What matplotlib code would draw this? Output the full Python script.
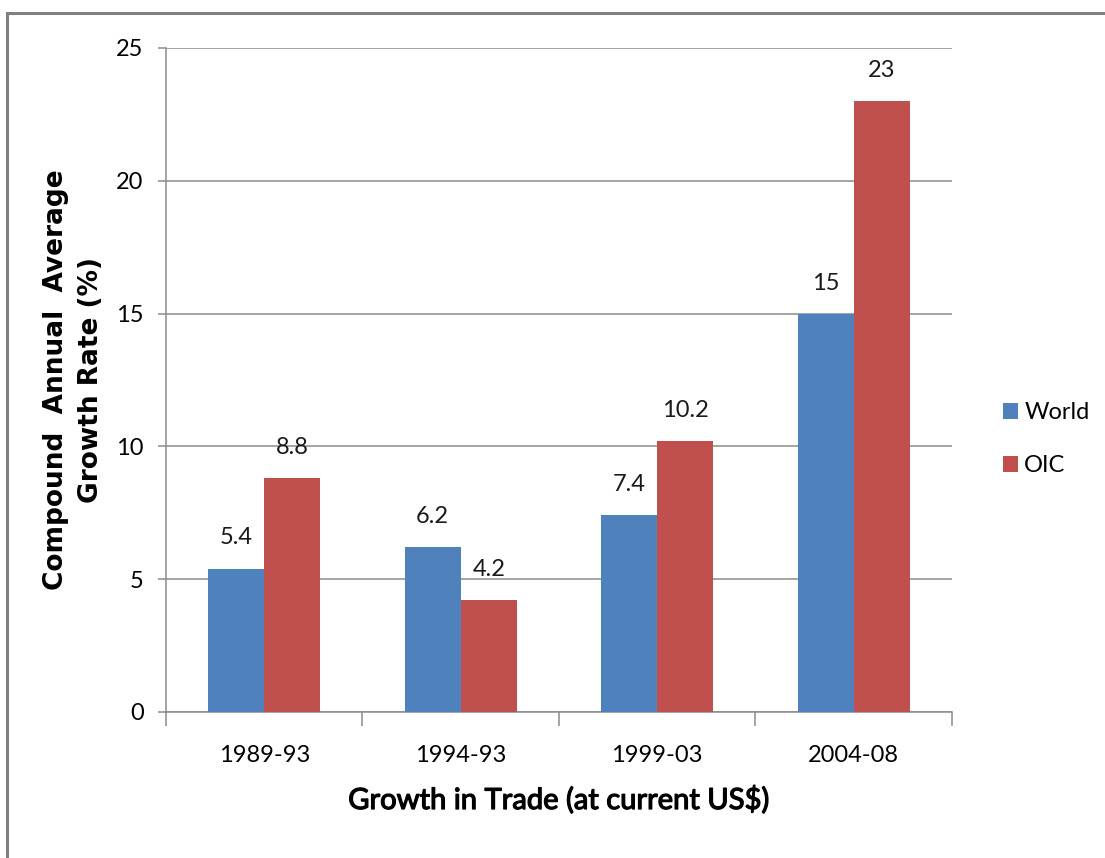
import matplotlib
matplotlib.use("Agg")
import matplotlib.pyplot as plt
import matplotlib.patheffects as pe
import numpy as np
from matplotlib.patches import Rectangle

periods = ["1989-93", "1994-93", "1999-03", "2004-08"]
world = [5.4, 6.2, 7.4, 15]
oic = [8.8, 4.2, 10.2, 23]
series_names = ["World", "OIC"]

plt.rcParams['font.family'] = ['Lato', 'DejaVu Sans']

fig = plt.figure(figsize=(11.05, 8.58), dpi=100)
ax = fig.add_axes([0.1502, 0.1702, 0.7113, 0.7739])

x = np.arange(len(periods))
w = 0.285
b1 = ax.bar(x - w / 2, world, w, color="#4F81BD", label=series_names[0], zorder=3)
b2 = ax.bar(x + w / 2, oic, w, color="#C0504D", label=series_names[1], zorder=3)

# value labels above bars
for bars, vals in ((b1, world), (b2, oic)):
    for rect, v in zip(bars, vals):
        ax.annotate(f"{v:g}", (rect.get_x() + rect.get_width() / 2, v),
                    xytext=(0, 22), textcoords="offset points",
                    ha="center", va="center", fontsize=17, color="#1a1a1a")

ax.set_xlim(-0.5, len(periods) - 0.5)
ax.set_ylim(0, 25)
ax.set_yticks([0, 5, 10, 15, 20, 25])
ax.yaxis.grid(True, color="#8c8c8c", linewidth=1.1, zorder=0)

ax.set_xticks(x)
ax.set_xticklabels(periods, fontsize=17)
ax.set_xticks(np.arange(len(periods) + 1) - 0.5, minor=True)
ax.tick_params(axis="x", which="major", length=0, pad=24)
ax.tick_params(axis="x", which="minor", length=10, color="#8c8c8c", width=1.1)
ax.tick_params(axis="y", length=6, color="#8c8c8c", width=1.1, labelsize=17, pad=10)

for s in ("top", "right"):
    ax.spines[s].set_visible(False)
for s in ("left", "bottom"):
    ax.spines[s].set_color("#8c8c8c")
    ax.spines[s].set_linewidth(1.1)

# Lato here has no semibold, so thicken the x label a little with a stroke
xl = ax.set_xlabel("Growth in Trade (at current US$)", fontsize=21, labelpad=14)
xl.set_path_effects([pe.withStroke(linewidth=0.9, foreground="black")])
ax.set_ylabel("Compound  Annual  Average\nGrowth Rate (%)", fontsize=19,
              fontweight="bold", family="DejaVu Sans", linespacing=1.45)
ax.yaxis.set_label_coords(-0.079, 0.5)

fig.legend(loc="center left", bbox_to_anchor=(0.897, 0.488), frameon=False,
           fontsize=17, handlelength=0.65, handleheight=0.65,
           handletextpad=0.25, labelspacing=1.35, borderpad=0)

# outer frame of the chart area
fig.patches.append(Rectangle((7 / 1105, -0.1), 1.2, (858 - 13) / 858 + 0.1,
                             transform=fig.transFigure, fill=False,
                             edgecolor="#808080", linewidth=2.2))

fig.savefig("out.png", dpi=100)
